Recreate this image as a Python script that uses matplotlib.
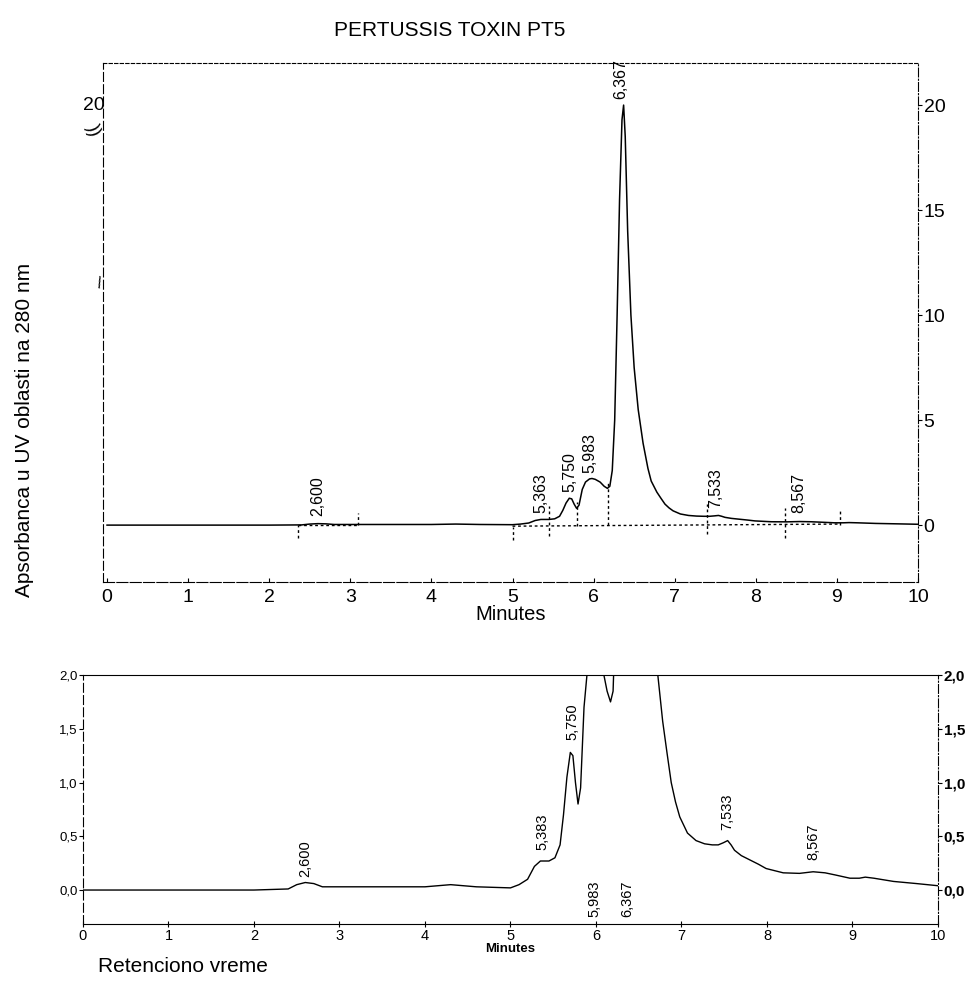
import matplotlib
matplotlib.use('Agg')
from matplotlib import pyplot as plt

plt.rcParams['font.family'] = ['Liberation Sans', 'DejaVu Sans']

# chromatogram (minutes, absorbance)
time = [0.0, 1.0, 2.0, 2.4, 2.5, 2.6, 2.7, 2.8, 3.0, 3.5, 4.0, 4.3, 4.6, 5.0, 5.1,
        5.2, 5.28, 5.35, 5.45, 5.52, 5.58, 5.62, 5.66, 5.70, 5.73, 5.76, 5.79, 5.82,
        5.86, 5.90, 5.95, 5.98, 6.02, 6.08, 6.13, 6.17, 6.20, 6.23, 6.26, 6.29, 6.32,
        6.35, 6.37, 6.39, 6.42, 6.46, 6.50, 6.55, 6.61, 6.67, 6.71, 6.78, 6.83, 6.88,
        6.93, 6.98, 7.07, 7.17, 7.27, 7.36, 7.43, 7.49, 7.54, 7.58, 7.62, 7.70, 7.80,
        7.90, 7.99, 8.19, 8.38, 8.54, 8.68, 8.80, 8.97, 9.08, 9.15, 9.25, 9.48, 9.75, 10.0]
absorb = [0.0, 0.0, 0.0, 0.01, 0.05, 0.07, 0.06, 0.03, 0.03, 0.03, 0.03, 0.05, 0.03, 0.02, 0.05,
          0.1, 0.22, 0.27, 0.27, 0.3, 0.42, 0.7, 1.05, 1.28, 1.25, 1.0, 0.8, 0.95,
          1.7, 2.05, 2.2, 2.22, 2.18, 2.05, 1.85, 1.75, 1.85, 2.6, 5.0, 10.0, 15.5,
          19.3, 20.0, 18.5, 14.0, 10.0, 7.5, 5.5, 3.9, 2.7, 2.1, 1.57, 1.28, 1.0,
          0.82, 0.68, 0.53, 0.46, 0.43, 0.42, 0.42, 0.44, 0.46, 0.42, 0.37, 0.32, 0.28,
          0.24, 0.2, 0.16, 0.155, 0.17, 0.16, 0.14, 0.11, 0.11, 0.12, 0.11, 0.08, 0.06, 0.04]

# integration marks on the upper trace
mark_x = [2.35, 3.10, 5.00, 5.45, 5.79, 6.18, 7.40, 8.36, 9.04]
mark_lo = [-0.6, 0.0, -0.7, -0.5, -0.05, 0.0, -0.4, -0.6, 0.0]
mark_hi = [0.0, 0.6, -0.1, 0.9, 1.1, 2.1, 1.0, 0.8, 0.7]
base_x = [[2.35, 3.10], [5.00, 9.04]]
base_y = [[0.0, 0.0], [-0.05, 0.05]]

top_labels = ["2,600", "5,363", "5,750", "5,983", "6,367", "7,533", "8,567"]
top_lab_x = [2.6, 5.35, 5.71, 5.95, 6.33, 7.5, 8.53]
top_lab_y = [0.45, 0.6, 1.6, 2.5, 20.3, 0.8, 0.6]

bot_labels = ["2,600", "5,383", "5,750", "5,983", "6,367", "7,533", "8,567"]
bot_lab_x = [2.6, 5.37, 5.72, 5.98, 6.36, 7.53, 8.54]
bot_lab_y = [0.12, 0.37, 1.4, -0.25, -0.25, 0.56, 0.28]

top_yticks = [0, 5, 10, 15, 20]
bot_yticks = [0.0, 0.5, 1.0, 1.5, 2.0]
bot_ytick_labels = ["0,0", "0,5", "1,0", "1,5", "2,0"]
xticks = [0, 1, 2, 3, 4, 5, 6, 7, 8, 9, 10]

fig = plt.figure(figsize=(9.66, 9.81), dpi=100)

# ---- upper chromatogram ----
ax1 = fig.add_axes([0.1066, 0.4067, 0.8437, 0.529])
ax1.plot(time, absorb, color='black', lw=1.1)
ax1.vlines(mark_x, mark_lo, mark_hi, colors='black', linestyles=(0, (2, 2)), lw=1)
for bx, by in zip(base_x, base_y):
    ax1.plot(bx, by, color='black', lw=1, ls=(0, (2, 2)))
for t, x, y in zip(top_labels, top_lab_x, top_lab_y):
    ax1.text(x, y, t, rotation=90, ha='center', va='bottom', fontsize=11.5)
ax1.set_xlim(-0.05, 10)
ax1.set_ylim(-2.71, 22.0)
ax1.set_xticks(xticks)
ax1.set_xticklabels([str(v) for v in xticks], fontsize=14)
ax1.yaxis.tick_right()
ax1.set_yticks(top_yticks)
ax1.set_yticklabels([str(v) for v in top_yticks], fontsize=14)
ax1.tick_params(axis='x', direction='in', length=3, pad=5)
ax1.tick_params(axis='y', direction='out', length=3, pad=1)
ax1.set_xlabel('Minutes', fontsize=14.5, labelpad=-1)
ax1.spines['left'].set_linestyle((0, (8, 3)))
ax1.spines['right'].set_linestyle((0, (8, 2, 1, 2)))
ax1.spines['top'].set_linestyle((0, (3, 2)))
ax1.spines['bottom'].set_linestyle((0, (10, 2)))
ax1.text(-0.03, 20, '20', ha='right', va='center', fontsize=14)
ax1.text(-0.05, 18.8, '))', ha='right', va='center', fontsize=13, rotation=-70)
ax1.text(-0.05, 11.5, '\\', ha='right', va='center', fontsize=12, rotation=-20)

# ---- lower chromatogram (zoom to 2,0) ----
ax2 = fig.add_axes([0.0859, 0.0581, 0.8851, 0.2538])
ax2.plot(time, absorb, color='black', lw=1.0)
for t, x, y in zip(bot_labels, bot_lab_x, bot_lab_y):
    ax2.text(x, y, t, rotation=90, ha='center', va='bottom', fontsize=10.5)
ax2.set_xlim(0, 10)
ax2.set_ylim(-0.316, 2.0)
ax2.set_xticks(xticks)
ax2.set_xticklabels([str(v) for v in xticks], fontsize=10.5)
ax2.set_yticks(bot_yticks)
ax2.set_yticklabels(bot_ytick_labels, fontsize=9.5)
ax2.tick_params(axis='x', direction='inout', length=5, pad=1)
ax2.tick_params(axis='y', direction='out', length=3, pad=1, right=True, labelright=True)
for lab in ax2.yaxis.get_ticklabels(which='major'):
    pass
for tk in ax2.yaxis.get_major_ticks():
    tk.label2.set_fontsize(11)
    tk.label2.set_fontweight('bold')
ax2.spines['left'].set_linestyle((0, (8, 3)))
ax2.spines['right'].set_linestyle((0, (8, 2, 1, 2)))
ax2.set_xlabel('Minutes', fontsize=9.5, fontweight='bold', labelpad=0)

fig.text(0.465, 1 - 30 / 981, 'PERTUSSIS TOXIN PT5', ha='center', va='center', fontsize=15)
fig.text(25 / 966, 1 - 430 / 981, 'Apsorbanca u UV oblasti na 280 nm', rotation=90,
         ha='center', va='center', fontsize=15)
fig.text(98 / 966, 1 - 966 / 981, 'Retenciono vreme', ha='left', va='center', fontsize=15)

fig.savefig('out.png', dpi=100, facecolor='white')
